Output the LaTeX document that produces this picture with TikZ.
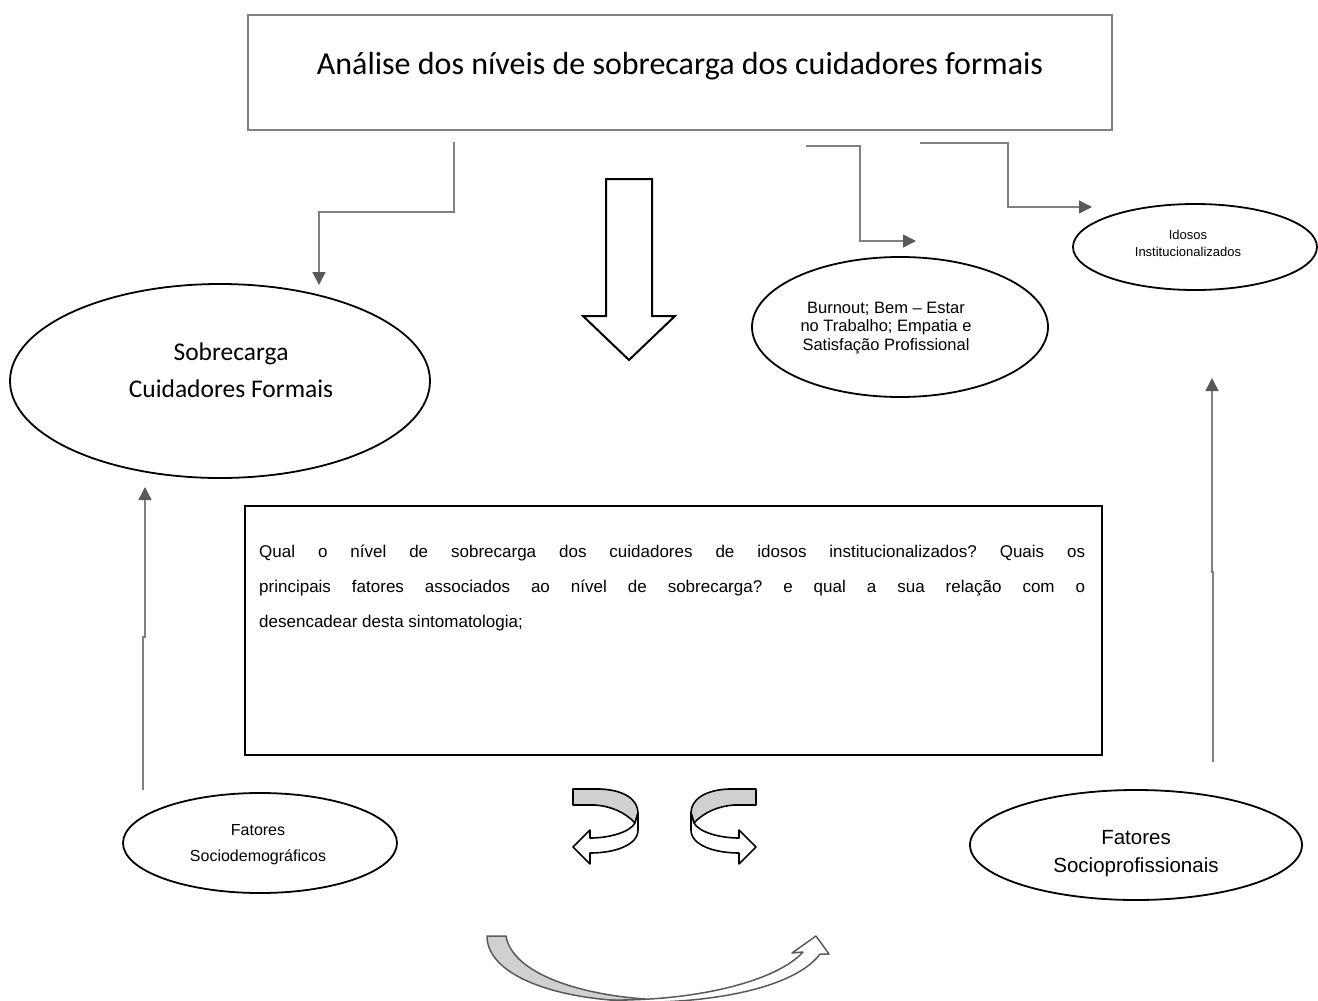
\documentclass[tikz,border=0pt]{standalone}
\usepackage{fontspec}
\setmainfont{Liberation Sans}
\newfontfamily\calfont{Carlito}
\usetikzlibrary{shapes.geometric,arrows.meta}
\definecolor{lgray}{HTML}{808080}
\definecolor{dgray}{HTML}{595959}
\definecolor{ribbon}{HTML}{D0D0D0}
\definecolor{bgray}{HTML}{5A5A5A}
\tikzset{
  conn/.style={draw=lgray,line width=1.4pt,-{Triangle[length=13pt,width=13pt,color=dgray]}},
  oval/.style={ellipse,draw=black,line width=1.8pt,inner sep=0pt},
  lbl/.style={align=center,inner sep=0pt},
  hollow/.style={draw=black,line width=2pt,fill=white,line join=miter},
  rib/.style={draw=black,line width=1.6pt,line join=round},
  twist/.pic={
    \path[rib,fill=ribbon] (0,0) -- (27,0) .. controls (52,1) and (65,11) .. (65,24)
      -- (62,34) .. controls (52,23) and (37,17) .. (22,16) -- (0,16) -- cycle;
    \path[rib,fill=white] (65,24) -- (65,41) .. controls (65,56) and (42,64) .. (17,64)
      -- (17,75) -- (0,58) -- (17,41) -- (17,49) .. controls (37,49) and (57,43) .. (62,34) -- cycle;
  }
}
\begin{document}
\begin{tikzpicture}[x=1pt,y=-1pt]
\useasboundingbox (0,0) rectangle (1318,1001);

% title box
\node[draw=lgray,line width=2.5pt,minimum width=864pt,minimum height=115pt,inner sep=0pt] (title) at (680,72.5) {};
\node[lbl,font=\calfont\fontsize{32}{38}\selectfont] (titletext) at (680,66) {Análise dos níveis de sobrecarga dos cuidadores formais};

% ellipses
\node[oval,minimum width=420pt,minimum height=194pt] (sobre) at (220,381) {};
\node[lbl,font=\calfont\fontsize{25.5}{37}\selectfont] (sobretext) at (231,370) {Sobrecarga\\Cuidadores Formais};

\node[oval,minimum width=296pt,minimum height=140pt] (burn) at (900,327) {};
\node[lbl,font=\fontsize{16.5}{18.5}\selectfont] (burntext) at (886,328) {Burnout; Bem – Estar\\no Trabalho; Empatia e\\Satisfação Profissional};

\node[oval,minimum width=244pt,minimum height=86pt] (idosos) at (1195,247) {};
\node[lbl,font=\fontsize{13}{17}\selectfont] (idosostext) at (1188,243) {Idosos\\Institucionalizados};

\node[oval,minimum width=274pt,minimum height=100pt] (socio) at (260,843) {};
\node[lbl,font=\fontsize{16}{26}\selectfont] (sociotext) at (258,845) {Fatores\\Sociodemográficos};

\node[oval,minimum width=332pt,minimum height=110pt] (prof) at (1136,845) {};
\node[lbl,font=\fontsize{20.5}{28}\selectfont] (proftext) at (1136,854) {Fatores\\Socioprofissionais};

% question box
\node[draw=black,line width=1.8pt,minimum width=857pt,minimum height=249pt,inner sep=0pt] (quest) at (673.5,630.5) {};
\node[anchor=north west,inner sep=0pt,text width=826pt,align=justify,font=\fontsize{17}{35}\selectfont\frenchspacing] (questtext) at (259,545)
  {Qual o nível de sobrecarga dos cuidadores de idosos institucionalizados? Quais os\linebreak principais fatores associados ao nível de sobrecarga? e qual a sua relação com o\linebreak desencadear desta sintomatologia;};

% connector free ends
\coordinate (a1s) at (454,142);
\coordinate (a1e) at (319,285);
\coordinate (a2s) at (806,146);
\coordinate (a2e) at (916,241);
\coordinate (a3s) at (920,143);
\coordinate (a3e) at (1092,207);
\coordinate (a4s) at (143,790);
\coordinate (a4e) at (145,487);
\coordinate (a5s) at (1213,762);
\coordinate (a5e) at (1212,378);

\draw[conn] (a1s) -- (454,212) -- (319,212) -- (a1e);
\draw[conn] (a2s) -- (860,146) -- (860,241) -- (a2e);
\draw[conn] (a3s) -- (1008,143) -- (1008,207) -- (a3e);
\draw[conn] (a4s) -- (143,637) -- (145,637) -- (a4e);
\draw[conn] (a5s) -- (1213,572) -- (1212,572) -- (a5e);

% hollow down arrow
\path[hollow] (606,179) -- (652,179) -- (652,316) -- (675,316) -- (629,360) -- (583,316) -- (606,316) -- cycle;

% twisting arrows
\pic at (573,789) {twist};
\pic[xscale=-1] at (756,789) {twist};

% bottom curved arrow
\path[draw=bgray,line width=1.5pt,fill=ribbon,line join=round] (487,936) -- (506,936) .. controls (512,972) and (575,994) .. (645,999)
  -- (625,1001) .. controls (545,997) and (487,972) .. (487,936) -- cycle;
\path[draw=bgray,line width=1.5pt,fill=white,line join=round] (610,1000) .. controls (700,1001) and (778,980) .. (803,952)
  -- (792,953) -- (816,936) -- (829,954) -- (820,954) .. controls (795,988) and (710,1004) .. (630,1002) -- cycle;
\end{tikzpicture}
\end{document}
